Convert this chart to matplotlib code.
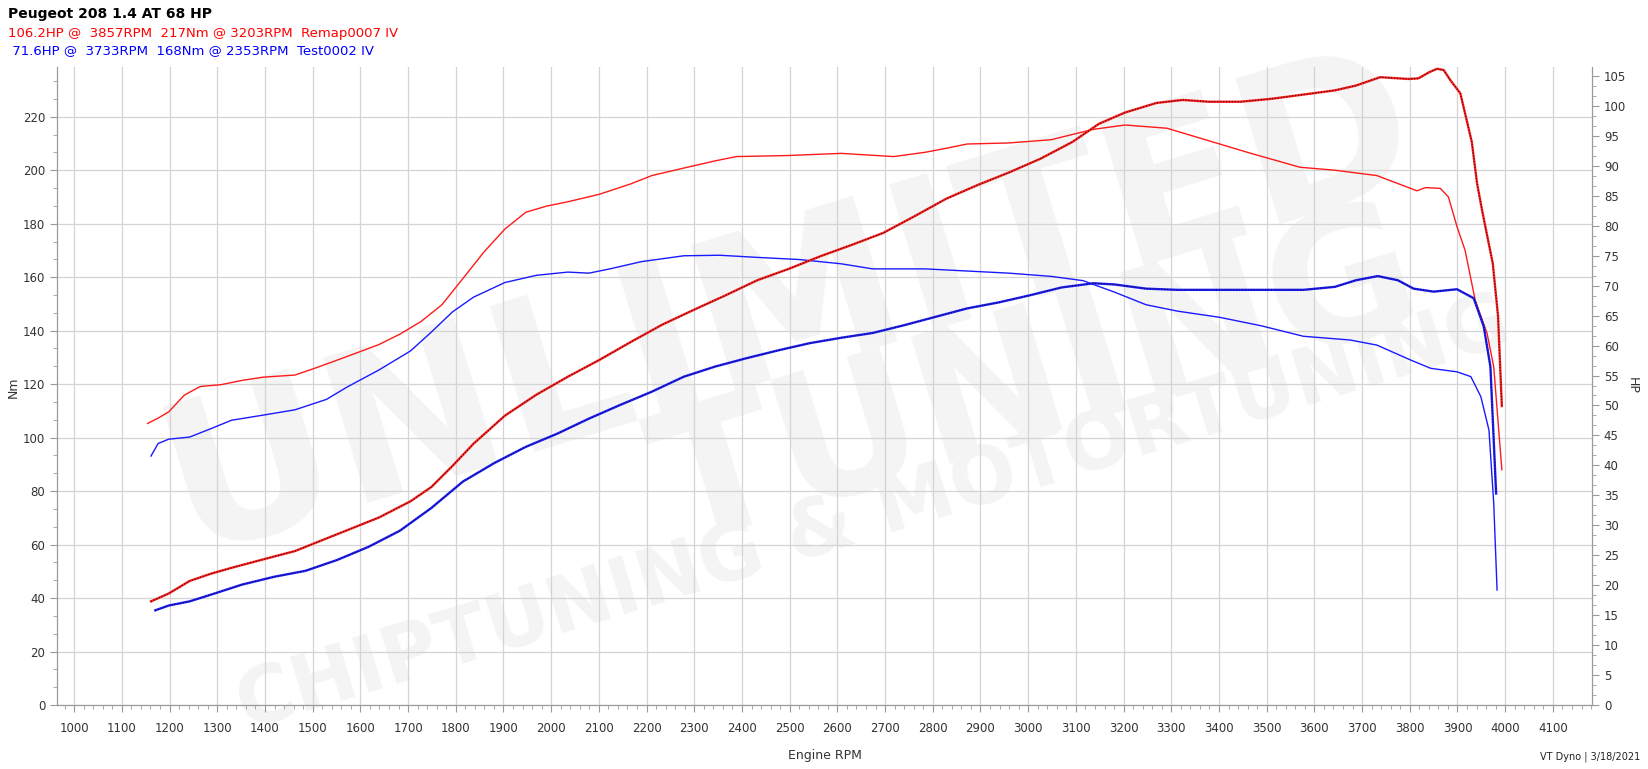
# Dyno chart: Peugeot 208 1.4 AT 68 HP, remap vs stock

import matplotlib.pyplot as plt
from matplotlib.ticker import MultipleLocator, AutoMinorLocator

plt.rcParams['font.family'] = ['DejaVu Sans']

# remap (red) torque, Nm
rpm_nm_remap = [1154, 1176, 1198, 1231, 1264, 1308, 1352, 1396, 1463, 1507, 1573, 1639, 1683, 1727,
                1771, 1815, 1859, 1903, 1947, 1991, 2035, 2101, 2167, 2211, 2278, 2344, 2388, 2498,
                2608, 2718, 2784, 2828, 2872, 2960, 3048, 3137, 3203, 3291, 3379, 3467, 3570, 3643,
                3731, 3815, 3833, 3864, 3881, 3899, 3916, 3937, 3962, 3976, 3993]
nm_remap = [105.3, 107.3, 109.6, 115.9, 119.1, 119.8, 121.4, 122.6, 123.4, 126.1, 130.4, 134.8, 138.7,
            143.4, 149.7, 159.5, 169.4, 178.0, 184.3, 186.6, 188.2, 191.0, 194.9, 198.0, 200.8, 203.5,
            205.1, 205.5, 206.3, 205.1, 206.7, 208.2, 209.8, 210.2, 211.4, 215.3, 216.9, 215.7, 211.0,
            206.3, 201.1, 200.0, 198.0, 192.3, 193.5, 193.2, 190.0, 178.9, 170.0, 151.5, 139.0, 126.5, 88.0]

# remap (red) power, HP
rpm_hp_remap = [1161, 1198, 1242, 1286, 1330, 1396, 1463, 1507, 1573, 1639, 1705, 1749, 1793, 1837,
                1903, 1969, 2035, 2101, 2167, 2233, 2300, 2366, 2432, 2498, 2564, 2630, 2696, 2762,
                2828, 2894, 2960, 3026, 3093, 3148, 3203, 3269, 3324, 3379, 3445, 3511, 3577, 3643,
                3687, 3738, 3797, 3818, 3840, 3857, 3871, 3885, 3906, 3930, 3941, 3952, 3974, 3985, 3993]
hp_remap = [17.3, 18.6, 20.7, 21.9, 22.9, 24.3, 25.7, 27.1, 29.2, 31.3, 34.0, 36.4, 39.9, 43.6,
            48.3, 51.8, 54.8, 57.6, 60.6, 63.5, 66.0, 68.4, 70.9, 72.8, 74.9, 76.8, 78.8, 81.6,
            84.5, 86.8, 88.9, 91.2, 94.0, 97.0, 98.9, 100.5, 101.0, 100.7, 100.7, 101.2, 101.9, 102.6,
            103.4, 104.8, 104.5, 104.6, 105.6, 106.2, 106.0, 104.3, 102.1, 94.0, 87.1, 82.4, 73.7, 64.9, 49.9]

# stock (blue) torque, Nm
rpm_nm_stock = [1161, 1176, 1198, 1242, 1286, 1330, 1396, 1463, 1529, 1573, 1639, 1705, 1749, 1793,
                1837, 1903, 1969, 2035, 2079, 2123, 2189, 2278, 2353, 2432, 2520, 2608, 2674, 2784,
                2872, 2960, 3048, 3115, 3181, 3247, 3313, 3401, 3489, 3577, 3675, 3731, 3802, 3844,
                3899, 3928, 3949, 3966, 3976, 3983]
nm_stock = [93.1, 97.8, 99.4, 100.2, 103.3, 106.5, 108.4, 110.4, 114.3, 119.0, 125.3, 132.4, 139.5,
            147.0, 152.5, 158.0, 160.7, 161.9, 161.5, 163.1, 165.8, 168.0, 168.2, 167.4, 166.6, 165.0,
            163.1, 163.1, 162.3, 161.5, 160.3, 158.7, 154.4, 149.7, 147.3, 145.0, 141.8, 137.9, 136.5,
            134.6, 129.0, 125.9, 124.6, 122.8, 115.3, 102.8, 75.4, 43.0]

# stock (blue) power, HP
rpm_hp_stock = [1170, 1198, 1242, 1286, 1352, 1419, 1485, 1551, 1617, 1683, 1749, 1815, 1881, 1947,
                2013, 2079, 2145, 2211, 2278, 2344, 2410, 2476, 2542, 2608, 2674, 2740, 2806, 2872,
                2938, 3004, 3070, 3137, 3181, 3247, 3313, 3401, 3489, 3577, 3643, 3687, 3733, 3775,
                3808, 3850, 3899, 3934, 3955, 3969, 3981]
hp_stock = [15.8, 16.6, 17.3, 18.4, 20.1, 21.4, 22.4, 24.2, 26.4, 29.1, 32.9, 37.3, 40.4, 43.1,
            45.3, 47.8, 50.1, 52.3, 54.8, 56.5, 57.9, 59.2, 60.4, 61.3, 62.1, 63.4, 64.8, 66.2,
            67.2, 68.4, 69.7, 70.4, 70.2, 69.5, 69.3, 69.3, 69.3, 69.3, 69.8, 70.9, 71.6, 70.9,
            69.5, 69.0, 69.4, 67.9, 63.2, 56.5, 35.3]

title = 'Peugeot 208 1.4 AT 68 HP'
remap_info = '106.2HP @  3857RPM  217Nm @ 3203RPM  Remap0007 IV'
stock_info = ' 71.6HP @  3733RPM  168Nm @ 2353RPM  Test0002 IV'

fig = plt.figure(figsize=(16.48, 7.69), dpi=100)

# faint watermark, drawn first and below the axes
wm = dict(color='#f4f4f4', fontweight='bold', ha='center', va='center', zorder=-5,
          rotation_mode='anchor')
fig.text(0.48, 0.60, 'UNLIMITED', fontsize=150, rotation=17, **wm)
fig.text(0.63, 0.50, 'TUNING', fontsize=130, rotation=17, **wm)
fig.text(0.53, 0.33, 'CHIPTUNING & MOTORTUNING', fontsize=56, rotation=17, **wm)

ax = fig.add_axes([57 / 1648, 1 - 705 / 769, (1592 - 57) / 1648, (705 - 67) / 769])
ax2 = ax.twinx()
ax.set_facecolor('none')
ax2.set_facecolor('none')

ax.plot(rpm_nm_remap, nm_remap, color='#ff1a1a', lw=1.0, zorder=3)
ax.plot(rpm_nm_stock, nm_stock, color='#1a1aff', lw=1.0, zorder=3)

ax2.plot(rpm_hp_remap, hp_remap, color='#ff2020', lw=1.7, zorder=3)
ax2.plot(rpm_hp_remap, hp_remap, color='black', lw=0.8, dashes=(1, 1.6), alpha=0.8, zorder=4)
ax2.plot(rpm_hp_stock, hp_stock, color='#2020ff', lw=1.7, zorder=3)
ax2.plot(rpm_hp_stock, hp_stock, color='black', lw=0.8, dashes=(1, 1.6), alpha=0.8, zorder=4)

ax.set_xlim(964, 4182)
ax.set_ylim(0, 238.6)
ax2.set_ylim(0, 106.5)

ax.xaxis.set_major_locator(MultipleLocator(100))
ax.xaxis.set_minor_locator(AutoMinorLocator(5))
ax.yaxis.set_major_locator(MultipleLocator(20))
ax.yaxis.set_minor_locator(AutoMinorLocator(3))
ax2.yaxis.set_major_locator(MultipleLocator(5))
ax2.yaxis.set_minor_locator(AutoMinorLocator(3))

ax.grid(which='major', color='#d4d4d4', lw=0.9)
ax.set_axisbelow(True)

for a in (ax, ax2):
    for s in a.spines.values():
        s.set_color('#9a9a9a')
    a.spines['top'].set_visible(False)
    a.tick_params(which='both', colors='#9a9a9a', labelcolor='#333333', labelsize=8.5)
    a.tick_params(which='major', length=5)
    a.tick_params(which='minor', length=3)
ax.tick_params(axis='x', pad=7)

ax.set_xlabel('Engine RPM', fontsize=9, color='#333333', labelpad=10)
fig.text(13 / 1648, 1 - 387 / 769, 'Nm', rotation=90, fontsize=9, color='#333333', ha='center', va='center')
fig.text(1632 / 1648, 1 - 385 / 769, 'HP', rotation=270, fontsize=9, color='#333333', ha='center', va='center')

fig.text(8 / 1648, 1 - 14 / 769, title, fontsize=10, fontweight='bold', color='black', va='center')
fig.text(8 / 1648, 1 - 33 / 769, remap_info, fontsize=9.5, color='#ff0000', va='center')
fig.text(8 / 1648, 1 - 51 / 769, stock_info, fontsize=9.5, color='#0000ff', va='center')
fig.text(1640 / 1648, 1 - 757 / 769, 'VT Dyno | 3/18/2021', fontsize=7, color='#222222', ha='right', va='center')

fig.savefig('out.png', dpi=100)
